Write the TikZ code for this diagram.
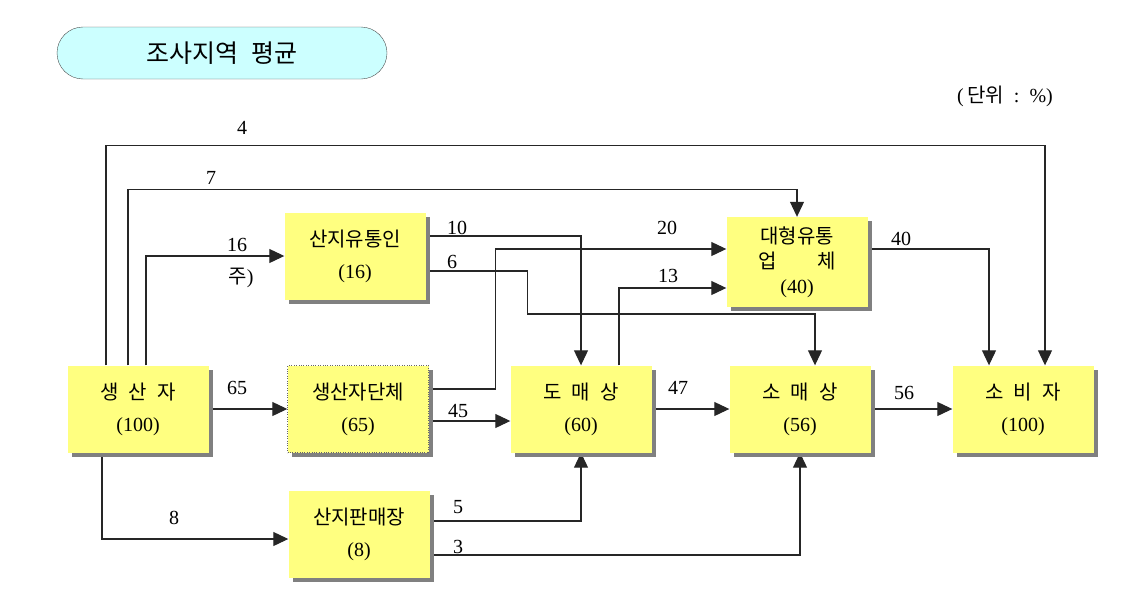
\documentclass[tikz,border=0pt]{standalone}
\usepackage{fontspec}
\setmainfont{Liberation Serif}
\newfontfamily\kr{Noto Sans CJK KR}
\usetikzlibrary{positioning, shapes, arrows.meta, shadows, backgrounds}

\definecolor{boxyellow}{RGB}{255,255,128}
\definecolor{boxshadow}{RGB}{128,128,128}
\definecolor{titlecyan}{RGB}{204,255,255}

\begin{document}
\begin{tikzpicture}[
    x=1pt, y=-1pt,
    flowbox/.style={rectangle, fill=boxyellow, align=center, minimum width=141pt, minimum height=87pt, inner sep=0pt,
        font=\fontsize{20}{32}\selectfont,
        drop shadow={shadow xshift=4pt, shadow yshift=-4pt, fill=boxshadow, opacity=1}},
    titlebox/.style={rectangle, rounded corners=26pt, draw=black!70, fill=titlecyan, minimum width=330pt, minimum height=52pt,
        font=\kr\fontsize{25}{25}\selectfont},
    flowarrow/.style={draw=black!85, line width=1.1pt, -{Triangle[length=15pt,width=14pt]}},
    numlabel/.style={font=\fontsize{20}{20}\selectfont, inner sep=0pt}]

    \useasboundingbox (0,0) rectangle (1124,589);

    \node[titlebox] (title) at (222,53) {조사지역\enspace 평균};
    \node[numlabel] (unit) at (1005,96) {(\,{\kr 단위}\ \ :\ \ \%)};

    \node[flowbox] (producer) at (138,409) {{\kr 생\enspace 산\enspace 자}\\(100)};
    \node[flowbox, draw=black!60, dotted] (group) at (358,409) {{\kr 생산자단체}\\(65)};
    \node[flowbox] (market) at (359,534) {{\kr 산지판매장}\\(8)};
    \node[flowbox] (collector) at (355,256) {{\kr 산지유통인}\\(16)};
    \node[flowbox] (wholesale) at (581,409) {{\kr 도\enspace 매\enspace 상}\\(60)};
    \node[flowbox, minimum height=90pt, font=\fontsize{20}{25}\selectfont] (largeretail) at (797,262) {{\kr 대형유통}\\{\kr 업\hspace{2em}체}\\(40)};
    \node[flowbox] (retail) at (800,409) {{\kr 소\enspace 매\enspace 상}\\(56)};
    \node[flowbox] (consumer) at (1023,409) {{\kr 소\enspace 비\enspace 자}\\(100)};

    \begin{pgfonlayer}{background}
    \draw[flowarrow] ([xshift=-32pt]producer.north) -- ++(0,-220) -| ([xshift=22pt]consumer.north);
    \draw[flowarrow] ([xshift=-10pt]producer.north) -- ++(0,-176) -| (largeretail.north);
    \draw[flowarrow] ([xshift=8pt]producer.north) |- (collector.west);
    \draw[flowarrow] ([xshift=-36pt]producer.south) |- ([yshift=-5pt]market.west);
    \draw[flowarrow] (producer.east) -- (group.west);

    \draw[flowarrow] ([yshift=20pt]collector.east) -| (wholesale.north);
    \draw[flowarrow] ([yshift=-15pt]collector.east) -- ++(102,0) -- ++(0,43) -| ([xshift=15pt]retail.north);

    \draw[flowarrow] ([yshift=20pt]group.east) -- ++(67,0) |- ([yshift=13pt]largeretail.west);
    \draw[flowarrow] ([yshift=-12pt]group.east) -- ([yshift=-12pt]wholesale.west);

    \draw[flowarrow] ([xshift=38pt]wholesale.north) |- ([yshift=-26pt]largeretail.west);
    \draw[flowarrow] ([yshift=13pt]market.east) -| (wholesale.south);
    \draw[flowarrow] ([yshift=-21pt]market.east) -| (retail.south);

    \draw[flowarrow] (wholesale.east) -- (retail.west);
    \draw[flowarrow] (retail.east) -- (consumer.west);
    \draw[flowarrow] ([yshift=13pt]largeretail.east) -| ([xshift=-34pt]consumer.north);
    \end{pgfonlayer}

    \node[numlabel] (n4) at (242,128) {4};
    \node[numlabel] (n7) at (211,178) {7};
    \node[numlabel] (n16) at (237,245) {16};
    \node[numlabel] (note) at (241,278) {{\kr 주})};
    \node[numlabel] (n65) at (237,388) {65};
    \node[numlabel] (n8) at (174,518) {8};
    \node[numlabel] (n10) at (457,228) {10};
    \node[numlabel] (n6) at (452,262) {6};
    \node[numlabel] (n20) at (667,228) {20};
    \node[numlabel] (n13) at (668,276) {13};
    \node[numlabel] (n45) at (458,411) {45};
    \node[numlabel] (n5) at (458,507) {5};
    \node[numlabel] (n3) at (458,547) {3};
    \node[numlabel] (n47) at (678,388) {47};
    \node[numlabel] (n56) at (904,393) {56};
    \node[numlabel] (n40) at (901,239) {40};

\end{tikzpicture}
\end{document}
